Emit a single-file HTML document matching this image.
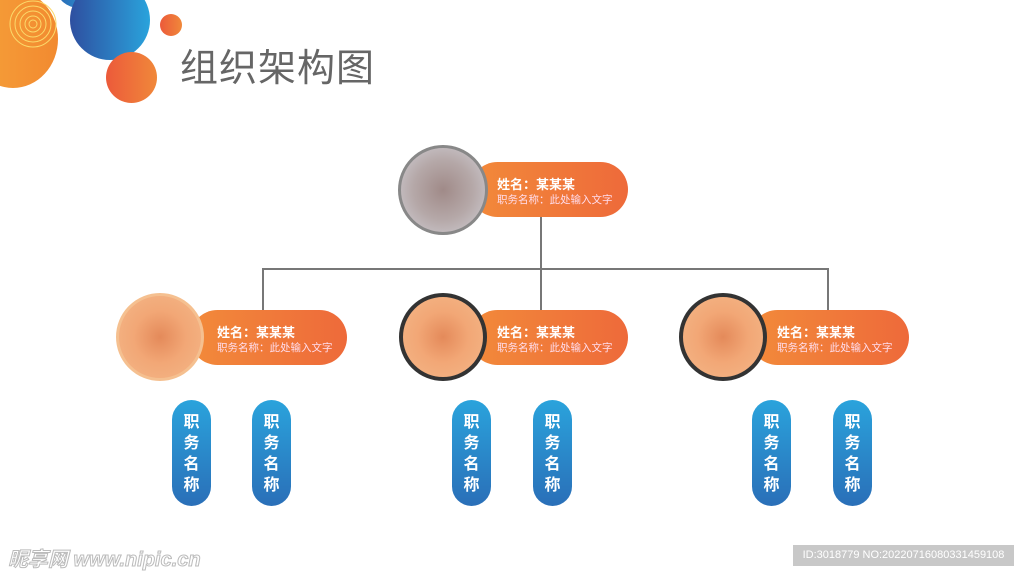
<!DOCTYPE html>
<html><head><meta charset="utf-8"><style>
body{margin:0;width:1024px;height:576px;background:#fff;position:relative;overflow:hidden;font-family:"Liberation Sans","Noto Sans CJK SC",sans-serif}
.a{position:absolute}
.c{position:absolute;border-radius:50%}
.pill{position:absolute;height:55px;border-radius:28px;background:linear-gradient(90deg,#f28a3a,#ee6a3a);color:#fff}
.pill b{position:absolute;left:27px;top:12px;font-size:13px}
.pill span{position:absolute;left:27px;top:30px;font-size:10.5px;color:#fde}
.ph{position:absolute;width:88px;height:88px;border-radius:50%;background:radial-gradient(circle at 50% 50%,#e48a5a 0,#f2a776 45%,#f3b080 75%,#eaa070 100%);box-sizing:border-box}
.bp{position:absolute;width:39px;height:106px;border-radius:20px;background:linear-gradient(180deg,#2aa3dc,#2a6fb8);color:#fff;font-weight:bold;font-size:16px;line-height:21px;text-align:center;padding-top:12px;box-sizing:border-box}
.ln{position:absolute;background:#777}
</style></head><body>
<div class="c" style="left:57px;top:-30px;width:44px;height:38px;background:linear-gradient(90deg,#2a6ab5,#2ea0da)"></div>
<div class="c" style="left:-32px;top:-10px;width:90px;height:98px;background:linear-gradient(90deg,#f6a23a,#f28a30)"></div>
<svg class="a" style="left:0;top:0" width="60" height="60"><g fill="none" stroke="#fbd96a" stroke-width="1"><circle cx="33" cy="24" r="4"/><circle cx="33" cy="24" r="8"/><circle cx="33" cy="24" r="13"/><circle cx="33" cy="24" r="18"/><circle cx="33" cy="24" r="23"/></g></svg>
<div class="c" style="left:70px;top:-20px;width:80px;height:80px;background:linear-gradient(90deg,#2e4fa0,#2aa3dc)"></div>
<div class="c" style="left:106px;top:52px;width:51px;height:51px;background:linear-gradient(90deg,#ec5a3a,#f0883a)"></div>
<div class="c" style="left:160px;top:14px;width:22px;height:22px;background:linear-gradient(90deg,#ec5a3a,#f0883a)"></div>
<div class="a" style="left:180px;top:37px;font-size:38px;color:#666;letter-spacing:1px">组织架构图</div>

<div class="ln" style="left:540px;top:215px;width:2px;height:55px"></div>
<div class="ln" style="left:262px;top:268px;width:567px;height:2px"></div>
<div class="ln" style="left:262px;top:268px;width:2px;height:43px"></div>
<div class="ln" style="left:540px;top:268px;width:2px;height:43px"></div>
<div class="ln" style="left:827px;top:268px;width:2px;height:43px"></div>

<div class="pill" style="left:470px;top:162px;width:158px"><b>姓名：某某某</b><span>职务名称：此处输入文字</span></div>
<div class="ph" style="left:398px;top:145px;width:90px;height:90px;background:radial-gradient(circle,#a08a88 0,#b5a8a8 50%,#c6c0c4 80%);border:3px solid #888"></div>

<div class="pill" style="left:190px;top:310px;width:157px"><b>姓名：某某某</b><span>职务名称：此处输入文字</span></div>
<div class="ph" style="left:116px;top:293px;border:3px solid #f5c090"></div>
<div class="pill" style="left:470px;top:310px;width:158px"><b>姓名：某某某</b><span>职务名称：此处输入文字</span></div>
<div class="ph" style="left:399px;top:293px;border:4px solid #333"></div>
<div class="pill" style="left:750px;top:310px;width:159px"><b>姓名：某某某</b><span>职务名称：此处输入文字</span></div>
<div class="ph" style="left:679px;top:293px;border:4px solid #333"></div>

<div class="bp" style="left:172px;top:400px">职<br>务<br>名<br>称</div>
<div class="bp" style="left:252px;top:400px">职<br>务<br>名<br>称</div>
<div class="bp" style="left:452px;top:400px">职<br>务<br>名<br>称</div>
<div class="bp" style="left:533px;top:400px">职<br>务<br>名<br>称</div>
<div class="bp" style="left:752px;top:400px">职<br>务<br>名<br>称</div>
<div class="bp" style="left:833px;top:400px">职<br>务<br>名<br>称</div>

<div class="a" style="left:8px;top:543px;font-size:20px;color:#fff;-webkit-text-stroke:1px #bbb;font-weight:bold;font-style:italic">昵享网 www.nipic.cn</div>
<div class="a" style="left:793px;top:545px;width:221px;height:21px;background:#c8c8c8;color:#fff;font-size:11px;line-height:21px;text-align:center">ID:3018779 NO:20220716080331459108</div>
</body></html>
